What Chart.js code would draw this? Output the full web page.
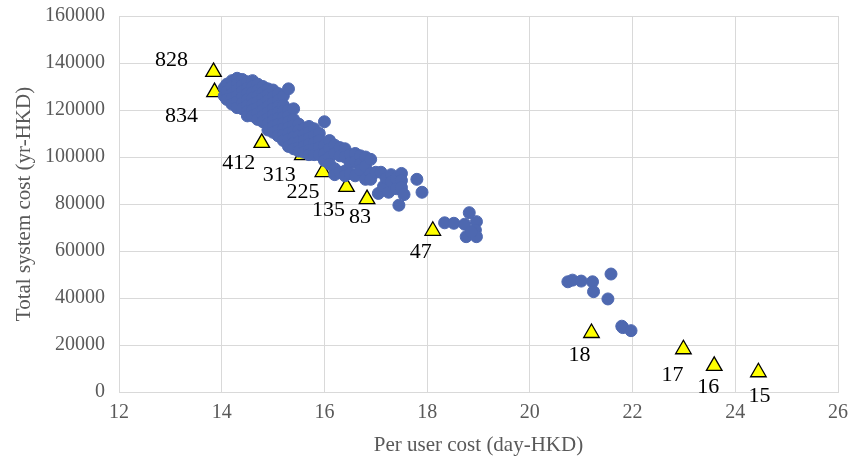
<!DOCTYPE html>
<html>
<head>
<meta charset="utf-8">
<script src="https://cdn.jsdelivr.net/npm/chart.js@4.4.1/dist/chart.umd.min.js"></script>
<style>
  html, body { margin: 0; padding: 0; background: #fff; }
  #wrap { width: 850px; height: 462px; }
</style>
</head>
<body>
<div id="wrap"><canvas id="costChart" width="850" height="462"></canvas></div>
<script>
// Blue scatter: per user cost (day-HKD) vs total system cost (yr-HKD)
const dotX = [
  14.05, 14.05,
  14.1, 14.1, 14.1,
  14.2, 14.2, 14.2, 14.2, 14.2,
  14.3, 14.3, 14.3, 14.3, 14.3, 14.3,
  14.4, 14.4, 14.4, 14.4, 14.4, 14.4,
  14.5, 14.5, 14.5, 14.5, 14.5, 14.5, 14.5,
  14.6, 14.6, 14.6, 14.6, 14.6, 14.6, 14.6,
  14.7, 14.7, 14.7, 14.7, 14.7, 14.7, 14.7,
  14.8, 14.8, 14.8, 14.8, 14.8, 14.8, 14.8,
  14.9, 14.9, 14.9, 14.9, 14.9, 14.9, 14.9, 14.9,
  15.0, 15.0, 15.0, 15.0, 15.0, 15.0, 15.0, 15.0,
  15.1, 15.1, 15.1, 15.1, 15.1, 15.1, 15.1, 15.1,
  15.2, 15.2, 15.2, 15.2, 15.2, 15.2, 15.2, 15.2,
  15.3, 15.3, 15.3, 15.3, 15.3, 15.3, 15.3, 15.3,
  15.4, 15.4, 15.4, 15.4, 15.4, 15.4, 15.4,
  15.5, 15.5, 15.5, 15.5, 15.5, 15.5,
  15.6, 15.6, 15.6, 15.6, 15.6,
  15.7, 15.7, 15.7, 15.7, 15.7, 15.7,
  15.8, 15.8, 15.8, 15.8, 15.8,
  15.9, 15.9, 15.9, 15.9,
  16.0, 16.0, 16.0, 16.0,
  16.1, 16.1, 16.1, 16.1,
  16.2, 16.2, 16.2, 16.2,
  16.3, 16.3, 16.3,
  16.4, 16.4, 16.4, 16.4,
  16.5, 16.5, 16.5,
  16.6, 16.6, 16.6,
  16.7, 16.7, 16.7,
  16.8, 16.8, 16.8,
  16.9, 16.9, 16.9,
  17.0, 17.05,
  17.1, 17.15, 17.2,
  17.25, 17.3, 17.3,
  17.4, 17.4, 17.45, 17.5,
  17.5, 17.5, 17.55,
  17.8, 17.9,
  18.34, 18.52, 18.73, 18.82, 18.96, 18.94, 18.76, 18.96, 18.86,
  20.74, 20.83, 21.0, 21.22, 21.24, 21.58, 21.52, 21.79, 21.81, 21.97
];
const dotY = [
  129500, 126000,
  131000, 128000, 124500,
  132500, 130000, 127000, 125000, 122500,
  133500, 131000, 128500, 126000, 123500, 121000,
  133000, 130500, 128000, 125500, 123000, 120500,
  132000, 129500, 127000, 124500, 122000, 119500, 117500,
  132500, 130000, 127500, 125000, 122500, 120000, 117500,
  131000, 128500, 126000, 123500, 121000, 118500, 116000,
  130000, 127500, 125000, 122500, 120000, 117500, 115000,
  129000, 126500, 124000, 121500, 119000, 116500, 114000, 111500,
  128500, 125500, 123000, 120500, 118000, 115500, 113000, 110500,
  127000, 124000, 121500, 119000, 116500, 114000, 111500, 109000,
  126000, 122000, 119500, 117000, 114500, 112000, 109500, 107000,
  129000, 120000, 117500, 115000, 112500, 110000, 107500, 104500,
  120500, 116000, 113500, 111000, 108500, 106000, 103500,
  114000, 111500, 109000, 106500, 104000, 102500,
  112000, 109500, 107000, 104500, 102000,
  113000, 110500, 108000, 105500, 103000, 101000,
  112000, 109000, 106000, 103500, 101000,
  110000, 107000, 104000, 101000,
  115000, 105000, 101500, 98500,
  107000, 103500, 100000, 97000,
  105000, 101500, 95000, 92500,
  104000, 100500, 93500,
  103500, 100000, 94000, 92000,
  101000, 97500, 93000,
  101500, 98000, 92000,
  100500, 97000, 94500,
  100000, 96000, 90500,
  99000, 93000, 90500,
  93500, 84500,
  93500, 87500, 91000,
  85000, 92500, 89500,
  91000, 86500, 79500, 93000,
  90000, 87000, 84000,
  90500, 85000,
  72000, 71800, 71400, 76300, 72500, 68900, 66100, 66100, 68200,
  46900, 47600, 47200, 46900, 42700, 50200, 39600, 28000, 27400, 26100
];

// Yellow triangles: labelled solutions
const triLabels = ['828', '834', '412', '313', '225', '135', '83', '47', '18', '17', '16', '15'];
const triX = [13.84, 13.86, 14.78, 15.57, 15.97, 16.43, 16.83, 18.11, 21.2, 22.99, 23.59, 24.45];
const triY = [136200, 127600, 106000, 100800, 93600, 87300, 82100, 68600, 25100, 18200, 11100, 8400];

// Axis ticks
const xTicks = [12, 14, 16, 18, 20, 22, 24, 26];
const yTicks = [0, 20000, 40000, 60000, 80000, 100000, 120000, 140000, 160000];

// Label placement relative to each triangle (px)
const labelOffsets = [
  [-42, -12], [-33, 24], [-23, 20], [-23, 20], [-20, 20], [-18, 23],
  [-7, 18], [-12, 21], [-12, 22], [-11, 26], [-6, 21], [1, 24]
];

const serif = '"Liberation Serif", "Times New Roman", serif';
const gridColor = '#D9D9D9';
const textGray = '#595959';

const pointLabelPlugin = {
  id: 'pointLabels',
  afterDatasetsDraw(chart) {
    const meta = chart.getDatasetMeta(1);
    const ctx = chart.ctx;
    ctx.save();
    ctx.font = '22px ' + serif;
    ctx.fillStyle = '#000';
    ctx.textAlign = 'center';
    ctx.textBaseline = 'middle';
    meta.data.forEach((pt, i) => {
      const off = labelOffsets[i];
      ctx.fillText(triLabels[i], pt.x + off[0], pt.y + off[1]);
    });
    ctx.restore();
  }
};

const ctx = document.getElementById('costChart').getContext('2d');
new Chart(ctx, {
  type: 'scatter',
  data: {
    datasets: [{
      label: 'Solutions',
      data: dotX.map((x, i) => ({ x: x, y: dotY[i] })),
      backgroundColor: '#4E68B0',
      borderColor: '#4E68B0',
      pointRadius: 6,
      pointHoverRadius: 6
    }, {
      label: 'Selected',
      data: triX.map((x, i) => ({ x: x, y: triY[i] })),
      pointStyle: 'triangle',
      backgroundColor: '#FFFF00',
      borderColor: '#000000',
      borderWidth: 1.3,
      pointRadius: 9,
      pointHoverRadius: 9
    }]
  },
  options: {
    responsive: false,
    animation: false,
    layout: { padding: { left: 8, right: 12, top: 16, bottom: 0 } },
    plugins: {
      legend: { display: false },
      tooltip: { enabled: false }
    },
    scales: {
      x: {
        type: 'linear',
        min: 12,
        max: 26,
        afterBuildTicks: (scale) => { scale.ticks = xTicks.map(v => ({ value: v })); },
        afterFit: (scale) => {
          scale.height = 70;
          scale.paddingLeft = 0;
          scale.paddingRight = 0;
        },
        grid: { color: gridColor, drawTicks: false },
        border: { color: gridColor },
        ticks: { color: textGray, font: { family: serif, size: 20 }, padding: 9 },
        title: {
          display: true,
          text: 'Per user cost (day-HKD)',
          color: textGray,
          font: { family: serif, size: 21 },
          padding: { top: 4 }
        }
      },
      y: {
        type: 'linear',
        min: 0,
        max: 160000,
        afterBuildTicks: (scale) => { scale.ticks = yTicks.map(v => ({ value: v })); },
        afterFit: (scale) => {
          scale.width = 111;
          scale.paddingTop = 0;
          scale.paddingBottom = 0;
        },
        grid: { color: gridColor, drawTicks: false },
        border: { color: gridColor },
        ticks: {
          color: textGray,
          font: { family: serif, size: 20 },
          padding: 14,
          callback: (v) => String(v)
        },
        title: {
          display: true,
          text: 'Total system cost (yr-HKD)',
          color: textGray,
          font: { family: serif, size: 21 },
          padding: { bottom: 2 }
        }
      }
    }
  },
  plugins: [pointLabelPlugin]
});
</script>
</body>
</html>
